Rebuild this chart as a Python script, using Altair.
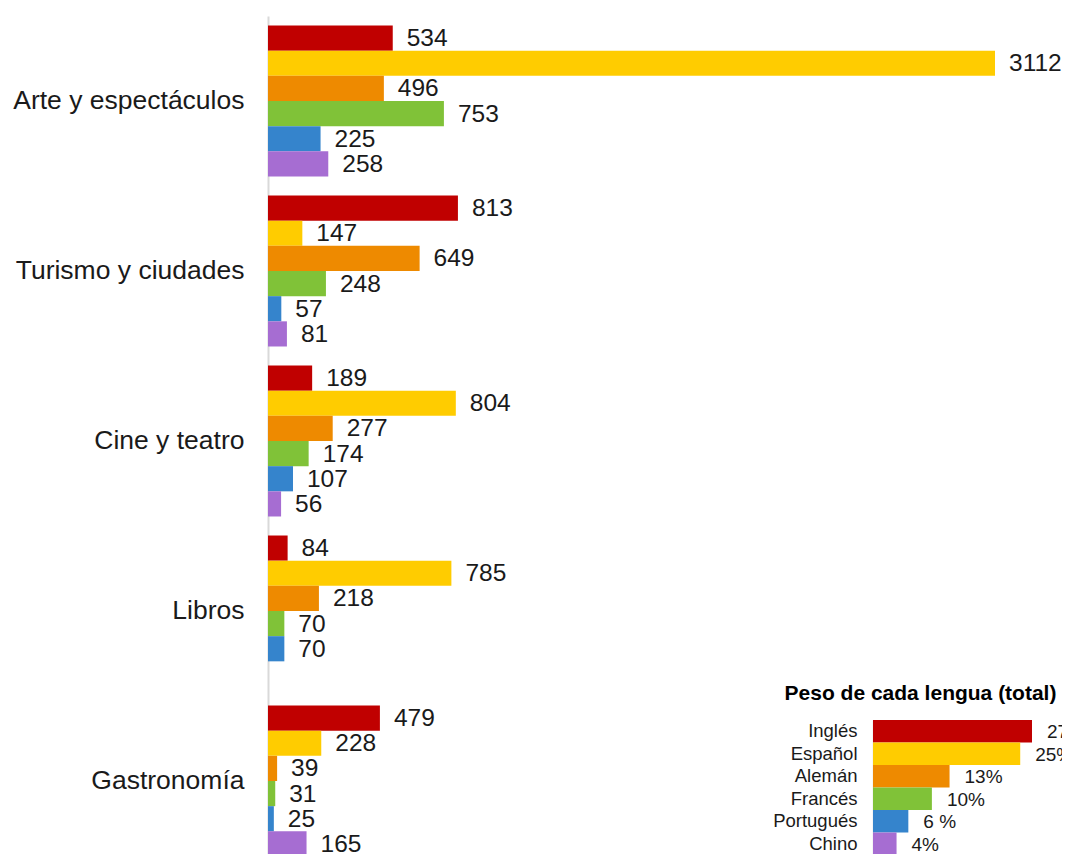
import altair as alt
import pandas as pd

categories = ["Arte y espectáculos", "Turismo y ciudades", "Cine y teatro", "Libros", "Gastronomía"]
languages = ["Inglés", "Español", "Alemán", "Francés", "Portugués", "Chino"]
colors = ["#C00000", "#FFCC00", "#EE8A00", "#80C238", "#3584CC", "#A66DD2"]

arte = [534, 3112, 496, 753, 225, 258]
turismo = [813, 147, 649, 248, 57, 81]
cine = [189, 804, 277, 174, 107, 56]
libros = [84, 785, 218, 70, 70, None]
gastronomia = [479, 228, 39, 31, 25, 165]

shares = [27, 25, 13, 10, 6, 4]
share_labels = ["27%", "25%", "13%", "10%", "6 %", "4%"]
inset_title = "Peso de cada lengua (total)"

FONT = "Liberation Sans"

rows = []
for cat, vals in zip(categories, [arte, turismo, cine, libros, gastronomia]):
    for lang, v in zip(languages, vals):
        if v is not None:
            rows.append({"cat": cat, "lang": lang, "value": v})
df = pd.DataFrame(rows)

inset_df = pd.DataFrame({"lang": languages, "share": shares, "label": share_labels})

color = alt.Color("lang:N", scale=alt.Scale(domain=languages, range=colors), legend=None)

y_main = alt.Y(
    "cat:N",
    sort=categories,
    scale=alt.Scale(domain=categories, range=[0, 850], paddingInner=0.1118, paddingOuter=0.0559),
    axis=alt.Axis(
        title=None, ticks=False, labelFontSize=26.5, labelPadding=24, labelLimit=400,
        labelFont=FONT, labelColor="#1a1a1a", domainColor="#d9d9d9", domainWidth=2,
        grid=False,
    ),
)
yoff = alt.YOffset("lang:N", scale=alt.Scale(domain=languages, paddingInner=0, paddingOuter=0))
x_main = alt.X("value:Q", scale=alt.Scale(domain=[0, 3112], range=[0, 727], nice=False, zero=True), axis=None)

base = alt.Chart(df)
bars = base.mark_bar(stroke=None).encode(x=x_main, y=y_main, yOffset=yoff, color=color)
labels = base.mark_text(align="left", baseline="middle", dx=14, dy=1, fontSize=24.5, font=FONT, color="#1a1a1a").encode(
    x=x_main, y=y_main, yOffset=yoff, text="value:Q"
)
main = alt.layer(bars, labels)

x_inset = alt.X(
    "share:Q",
    scale=alt.Scale(domain=[0, 27], range=[605, 764], nice=False, zero=True),
    axis=alt.Axis(
        orient="top", offset=-702, labels=False, ticks=False, domain=False, grid=False,
        title=inset_title, titleFont=FONT, titleFontSize=21, titleFontWeight="bold",
        titleColor="#000000", titleX=652, titleAnchor="middle", titlePadding=15,
    ),
)
y_inset = alt.Y(
    "lang:N",
    sort=languages,
    scale=alt.Scale(domain=languages, range=[704, 839], paddingInner=0, paddingOuter=0),
    axis=alt.Axis(
        orient="left", offset=-605, title=None, ticks=False, labelFontSize=18.5, labelFont=FONT,
        labelColor="#1a1a1a", labelPadding=16, domainColor="#d9d9d9", domainWidth=1.5, grid=False,
    ),
)
ibase = alt.Chart(inset_df)
ibars = ibase.mark_bar().encode(x=x_inset, y=y_inset, color=color)
itext = ibase.mark_text(align="left", baseline="middle", dx=15, dy=1, fontSize=19, font=FONT, color="#1a1a1a").encode(
    x=x_inset, y=y_inset, text="label:N"
)
inset = alt.layer(ibars, itext)

chart = (
    alt.layer(main, inset)
    .resolve_scale(x="independent", y="independent")
    .properties(
        width=794,
        height=838,
        autosize=alt.AutoSizeParams(type="none"),
        padding={"left": 260, "top": 8, "right": 0, "bottom": 0},
    )
    .configure_view(stroke=None)
)

chart.save("out.html", embed_options={"renderer": "svg", "actions": False})
